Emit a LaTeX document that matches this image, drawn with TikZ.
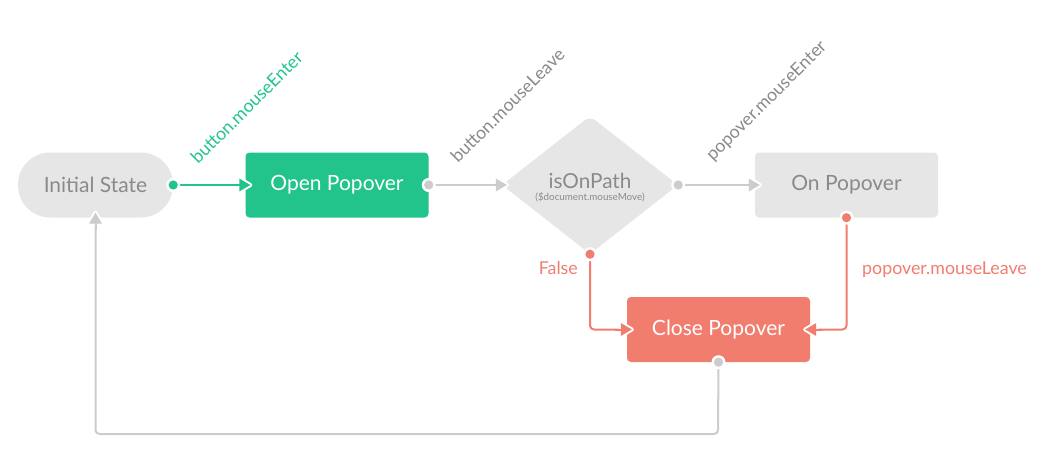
\documentclass[tikz,border=0pt]{standalone}
\usepackage{fontspec}
\setmainfont{Lato}
\usetikzlibrary{shapes.geometric,calc}
\definecolor{cgreen}{HTML}{22C48C}
\definecolor{csalmon}{HTML}{F07D6E}
\definecolor{cbox}{HTML}{E6E6E6}
\definecolor{cline}{HTML}{CCCCCC}
\definecolor{ctext}{HTML}{8A8A8A}
\begin{document}
\begin{tikzpicture}[x=1pt,y=-1pt,
  box/.style={rectangle, rounded corners=4pt, minimum width=183pt, minimum height=65pt, inner sep=0pt, font=\fontsize{21}{22}\selectfont},
  graybox/.style={box, fill=cbox, text=ctext},
  conn/.style={line width=2pt, rounded corners=4pt, draw=#1},
  lbl/.style={inner sep=0pt, font=\fontsize{17.8}{19}\selectfont},
  tipmark/.pic={
    \draw[white, line width=4pt, line join=round, fill=white] (-6,-6.5) -- (5,0) -- (-6,6.5) -- cycle;
    \draw[#1, line width=2pt] (-12,0) -- (-5,0);
    \fill[#1] (-6,-6.5) -- (5,0) -- (-6,6.5) -- cycle;
  },
  dotmark/.pic={
    \fill[white] (0,0) circle (7pt);
    \fill[#1] (0,0) circle (4.6pt);
  }
]
\useasboundingbox (0,0) rectangle (1058,474);

% nodes
\node[graybox, minimum width=155pt, minimum height=65pt, rounded corners=32pt] (init) at (95.5,185) {Initial State};
\node[box, fill=cgreen, text=white] (open) at (337,185) {Open Popover};
\node[diamond, fill=cbox, minimum width=176pt, minimum height=138pt, inner sep=0pt, rounded corners=7pt] (dia) at (590,185) {};
\node[text=ctext, inner sep=0pt, anchor=base, font=\fontsize{20.7}{24}\selectfont] (dt) at (590,188) {isOnPath};
\node[text=ctext, inner sep=0pt, anchor=base, font=\fontsize{9.8}{10}\selectfont] (ds) at (590,200) {(\$document.mouseMove)};
\node[graybox] (onpop) at (846.5,185) {On Popover};
\node[box, fill=csalmon, text=white] (close) at (718.5,329.5) {Close Popover};

\coordinate (fbr) at (718,434);

% connectors
\draw[conn=cgreen] (init.east) -- (open.west);
\draw[conn=cline] (open.east) -- (dia.west);
\draw[conn=cline] (dia.east) -- (onpop.west);
\draw[conn=csalmon] (dia.south) |- (close.west);
\draw[conn=csalmon] (onpop.south) |- (close.east);
\draw[conn=cline] (close.south) -- (fbr) -| (init.south);

% markers
\pic at (init.east) {dotmark=cgreen};
\pic at (open.west) {tipmark=cgreen};
\pic at (open.east) {dotmark=cline};
\pic at (dia.west) {tipmark=cline};
\pic at (dia.east) {dotmark=cline};
\pic at (onpop.west) {tipmark=cline};
\pic at (dia.south) {dotmark=csalmon};
\pic at (close.west) {tipmark=csalmon};
\pic at (onpop.south) {dotmark=csalmon};
\pic[rotate=180] at (close.east) {tipmark=csalmon};
\pic at (close.south) {dotmark=cline};
\pic[rotate=90] at (init.south) {tipmark=cline};

% labels
\node[lbl, text=cgreen, rotate=45, anchor=base west] (l1) at (198,165) {button.mouseEnter};
\node[lbl, text=ctext, rotate=45, anchor=base west] (l2) at (458,164) {button.mouseLeave};
\node[lbl, text=ctext, rotate=45, anchor=base west] (l3) at (713,162) {popover.mouseEnter};
\node[lbl, text=csalmon, anchor=base east] (l4) at (578,274) {False};
\node[lbl, text=csalmon, anchor=base west] (l5) at (862,274) {popover.mouseLeave};
\end{tikzpicture}
\end{document}
